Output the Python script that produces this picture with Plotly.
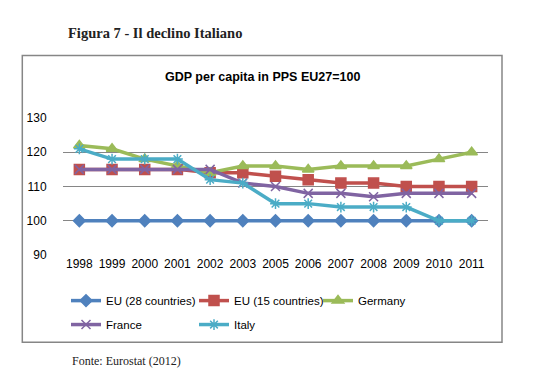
import plotly.graph_objects as go

years = ["1998", "1999", "2000", "2001", "2002", "2003", "2005", "2006", "2007", "2008", "2009", "2010", "2011"]
eu28 = [100, 100, 100, 100, 100, 100, 100, 100, 100, 100, 100, 100, 100]
eu15 = [115, 115, 115, 115, 114, 114, 113, 112, 111, 111, 110, 110, 110]
germany = [122, 121, 118, 116, 114, 116, 116, 115, 116, 116, 116, 118, 120]
france = [115, 115, 115, 115, 115, 111, 110, 108, 108, 107, 108, 108, 108]
italy = [121, 118, 118, 118, 112, 111, 105, 105, 104, 104, 104, 100, 100]
y_ticks = [90, 100, 110, 120, 130]

W, H = 545, 378
L, R = 55, 480          # plot area px
TOP, BOT = 110, 247.3   # y px of 130 and 90

def px_x(p):
    return (p - L) / (R - L)

def px_y(p):
    return (BOT - p) / (BOT - TOP)

series = [
    ("EU (28 countries)", eu28, "#4F81BD", "diamond", 9, "legend"),
    ("EU (15 countries)", eu15, "#C0504D", "square", 10, "legend2"),
    ("Germany", germany, "#9BBB59", "triangle-up", 10, "legend3"),
    ("France", france, "#8064A2", "x-thin", 9, "legend4"),
    ("Italy", italy, "#4BACC6", "asterisk", 9, "legend5"),
]

fig = go.Figure()
for name, vals, col, sym, sz, lg in series:
    fig.add_trace(go.Scatter(
        x=years, y=vals, name=name, mode="lines+markers",
        line=dict(color=col, width=3.5),
        marker=dict(symbol=sym, size=sz, color=col,
                    line=dict(color=col, width=1.5)),
        legend=lg,
    ))

font_ax = dict(family="Liberation Sans, Arial, sans-serif", size=12, color="#000000")
font_leg = dict(family="Liberation Sans, Arial, sans-serif", size=11.5, color="#000000")

# legend positions (px): legend left x, row y
leg_pos = {
    "legend": (58, 293),
    "legend2": (186, 293),
    "legend3": (310, 293),
    "legend4": (58, 317),
    "legend5": (186, 317),
}
leg_layout = {}
for k, (lx, ly) in leg_pos.items():
    leg_layout[k] = dict(x=px_x(lx), y=px_y(ly), xanchor="left", yanchor="middle",
                         orientation="h", font=font_leg, bgcolor="rgba(0,0,0,0)",
                         borderwidth=0, itemwidth=30)

fig.update_layout(
    width=W, height=H,
    margin=dict(l=L, r=W - R, t=TOP, b=H - BOT, pad=0),
    paper_bgcolor="white", plot_bgcolor="white",
    showlegend=True,
    xaxis=dict(type="category", range=[-0.5, 12.5], showgrid=False, showline=False,
               ticks="", tickfont=font_ax, zeroline=False),
    yaxis=dict(range=[90, 130], tickvals=y_ticks, showgrid=True, gridcolor="#868686",
               gridwidth=1, showline=False, ticks="outside", ticklen=13,
               tickcolor="rgba(255,255,255,0)", tickfont=font_ax, zeroline=False),
    shapes=[dict(type="rect", xref="paper", yref="paper",
                 x0=px_x(14.3), x1=px_x(494), y0=px_y(334.7), y1=px_y(47.3),
                 line=dict(color="#868686", width=1.5), fillcolor="rgba(0,0,0,0)",
                 layer="below")],
    annotations=[
        dict(text="<b>Figura 7 - Il declino Italiano</b>", xref="paper", yref="paper",
             x=px_x(58), y=px_y(25), xanchor="left", yanchor="middle", showarrow=False,
             font=dict(family="Liberation Serif, Times New Roman, serif", size=14.5, color="#222222")),
        dict(text="<b>GDP per capita in PPS EU27=100</b>", xref="paper", yref="paper",
             x=px_x(254), y=px_y(69), xanchor="center", yanchor="middle", showarrow=False,
             font=dict(family="Liberation Sans, Arial, sans-serif", size=12.5, color="#000000")),
        dict(text="Fonte: Eurostat (2012)", xref="paper", yref="paper",
             x=px_x(62), y=px_y(354), xanchor="left", yanchor="middle", showarrow=False,
             font=dict(family="Liberation Serif, Times New Roman, serif", size=12, color="#222222")),
    ],
    **leg_layout,
)

fig.write_html("out.html")
